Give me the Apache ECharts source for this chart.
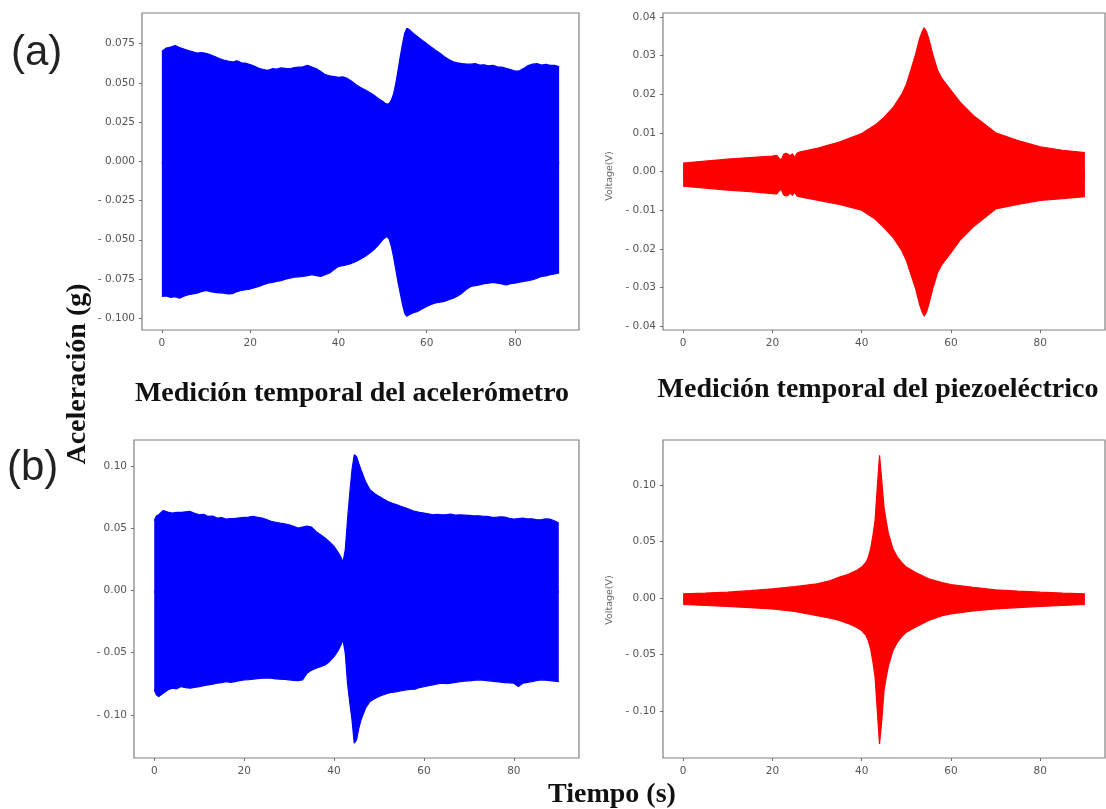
<!DOCTYPE html>
<html>
<head>
<meta charset="utf-8">
<script src="https://cdn.jsdelivr.net/npm/echarts@6/dist/echarts.min.js"></script>
<style>
html,body{margin:0;padding:0;background:#fff;}
#chart{width:1106px;height:809px;}
</style>
</head>
<body>
<div id="chart"></div>
<script>
// ---------- DATA (envelopes) ----------
const xTicks = [0, 20, 40, 60, 80];
const accATicks = [-0.1, -0.075, -0.05, -0.025, 0, 0.025, 0.05, 0.075];
const piezoATicks = [-0.04, -0.03, -0.02, -0.01, 0, 0.01, 0.02, 0.03, 0.04];
const accBTicks = [-0.1, -0.05, 0, 0.05, 0.1];
const piezoBTicks = [-0.1, -0.05, 0, 0.05, 0.1];

// (a) accelerometer
const accATime = [0,1,2,3,4,5,6,7,8,9,10,11,12,13,14,15,16,17,18,19,20,21,22,23,24,25,26,27,28,29,30,31,32,33,34,35,36,37,38,39,40,41,42,43,44,45,46,47,48,49,50,50.5,51,51.5,52,52.5,53,53.5,54,54.5,55,55.5,56,57,58,59,60,61,62,63,64,65,66,67,68,69,70,71,72,73,74,75,76,77,78,79,80,81,82,83,84,85,86,87,88,89,90];
const accAUpper = [0.0700,0.0722,0.0728,0.0738,0.0725,0.0715,0.0705,0.0698,0.0690,0.0693,0.0688,0.0678,0.0668,0.0655,0.0645,0.0638,0.0633,0.0640,0.0628,0.0625,0.0617,0.0605,0.0592,0.0585,0.0580,0.0590,0.0587,0.0595,0.0592,0.0590,0.0597,0.0600,0.0602,0.0612,0.0600,0.0590,0.0572,0.0552,0.0545,0.0540,0.0535,0.0538,0.0528,0.0510,0.0488,0.0470,0.0455,0.0440,0.0422,0.0400,0.0382,0.0372,0.0364,0.0368,0.0390,0.0430,0.0496,0.0580,0.0666,0.0745,0.0814,0.0848,0.0840,0.0815,0.0793,0.0770,0.0750,0.0728,0.0708,0.0688,0.0666,0.0648,0.0634,0.0628,0.0623,0.0620,0.0619,0.0622,0.0613,0.0615,0.0609,0.0612,0.0602,0.0600,0.0592,0.0585,0.0575,0.0577,0.0592,0.0610,0.0619,0.0622,0.0613,0.0618,0.0611,0.0612,0.0602];
const accALower = [-0.0861,-0.0858,-0.0867,-0.0862,-0.0872,-0.0860,-0.0850,-0.0845,-0.0840,-0.0830,-0.0823,-0.0830,-0.0835,-0.0838,-0.0840,-0.0845,-0.0844,-0.0830,-0.0823,-0.0818,-0.0814,-0.0805,-0.0797,-0.0787,-0.0776,-0.0772,-0.0766,-0.0760,-0.0751,-0.0745,-0.0738,-0.0736,-0.0734,-0.0728,-0.0723,-0.0728,-0.0734,-0.0722,-0.0712,-0.0690,-0.0670,-0.0665,-0.0659,-0.0650,-0.0638,-0.0622,-0.0606,-0.0586,-0.0564,-0.0535,-0.0500,-0.0488,-0.0479,-0.0495,-0.0543,-0.0610,-0.0691,-0.0770,-0.0840,-0.0910,-0.0967,-0.0988,-0.0978,-0.0965,-0.0956,-0.0940,-0.0925,-0.0912,-0.0903,-0.0898,-0.0893,-0.0882,-0.0872,-0.0858,-0.0840,-0.0815,-0.0797,-0.0792,-0.0787,-0.0780,-0.0776,-0.0772,-0.0776,-0.0782,-0.0787,-0.0780,-0.0776,-0.0770,-0.0766,-0.0760,-0.0755,-0.0745,-0.0734,-0.0730,-0.0723,-0.0718,-0.0712];

// (a) piezoelectric
const piezoATime = [0,5,10,15,20,21,21.5,22,22.5,23,23.5,24,24.5,25,25.5,26,30,35,40,43,45,47,49,50,51,52,53,53.5,54,54.5,55,56,57,58,60,62,65,70,75,80,85,90];
const piezoAUpper = [0.0022,0.0027,0.0032,0.0036,0.0040,0.0042,0.0034,0.0030,0.0044,0.0047,0.0045,0.0040,0.0046,0.0036,0.0047,0.0050,0.0060,0.0076,0.0098,0.0120,0.0140,0.0165,0.0200,0.0225,0.0262,0.0300,0.0345,0.0360,0.0372,0.0362,0.0345,0.0300,0.0262,0.0240,0.0210,0.0180,0.0145,0.0100,0.0080,0.0064,0.0055,0.0049];
const piezoALower = [-0.0038,-0.0043,-0.0048,-0.0052,-0.0057,-0.0058,-0.0050,-0.0046,-0.0060,-0.0063,-0.0062,-0.0055,-0.0062,-0.0052,-0.0063,-0.0065,-0.0074,-0.0085,-0.0100,-0.0123,-0.0145,-0.0170,-0.0205,-0.0230,-0.0265,-0.0300,-0.0345,-0.0362,-0.0374,-0.0364,-0.0345,-0.0300,-0.0262,-0.0240,-0.0210,-0.0178,-0.0143,-0.0097,-0.0085,-0.0075,-0.0070,-0.0065];

// (b) accelerometer
const accBTime = [0,0.5,1,2,3,4,5,6,7,8,9,10,11,12,13,14,15,16,17,18,19,20,21,22,23,24,25,26,27,28,29,30,31,32,33,34,35,36,37,38,39,40,41,41.5,42,42.5,43,43.5,44,44.5,45,45.5,46,47,48,49,50,51,52,53,54,55,56,57,58,59,60,61,62,63,64,65,66,67,68,69,70,71,72,73,74,75,76,77,78,79,80,81,82,83,84,85,86,87,88,89,90];
const accBUpper = [0.0560,0.0600,0.0608,0.0643,0.0630,0.0622,0.0628,0.0627,0.0632,0.0635,0.0620,0.0608,0.0612,0.0595,0.0598,0.0581,0.0585,0.0573,0.0578,0.0579,0.0583,0.0587,0.0590,0.0595,0.0588,0.0581,0.0570,0.0555,0.0548,0.0541,0.0535,0.0528,0.0515,0.0501,0.0510,0.0518,0.0509,0.0474,0.0448,0.0421,0.0390,0.0354,0.0300,0.0270,0.0228,0.0327,0.0568,0.0780,0.0970,0.1090,0.1077,0.1020,0.0970,0.0876,0.0809,0.0780,0.0756,0.0735,0.0715,0.0700,0.0689,0.0675,0.0662,0.0648,0.0635,0.0628,0.0622,0.0615,0.0608,0.0612,0.0608,0.0610,0.0614,0.0605,0.0608,0.0606,0.0603,0.0600,0.0600,0.0597,0.0595,0.0590,0.0587,0.0592,0.0590,0.0580,0.0573,0.0578,0.0581,0.0575,0.0576,0.0570,0.0568,0.0575,0.0573,0.0560,0.0541];
const accBLower = [-0.0798,-0.0839,-0.0852,-0.0825,-0.0800,-0.0785,-0.0790,-0.0772,-0.0780,-0.0785,-0.0778,-0.0772,-0.0765,-0.0758,-0.0752,-0.0745,-0.0740,-0.0732,-0.0738,-0.0732,-0.0725,-0.0718,-0.0716,-0.0713,-0.0708,-0.0705,-0.0703,-0.0705,-0.0710,-0.0713,-0.0715,-0.0718,-0.0722,-0.0724,-0.0718,-0.0665,-0.0640,-0.0624,-0.0612,-0.0598,-0.0570,-0.0531,-0.0477,-0.0440,-0.0397,-0.0504,-0.0745,-0.0900,-0.1040,-0.1227,-0.1200,-0.1110,-0.1040,-0.0946,-0.0892,-0.0870,-0.0852,-0.0838,-0.0825,-0.0818,-0.0812,-0.0805,-0.0798,-0.0795,-0.0793,-0.0780,-0.0772,-0.0765,-0.0758,-0.0750,-0.0745,-0.0748,-0.0745,-0.0738,-0.0732,-0.0728,-0.0726,-0.0722,-0.0718,-0.0720,-0.0724,-0.0728,-0.0732,-0.0736,-0.0740,-0.0742,-0.0745,-0.0772,-0.0745,-0.0738,-0.0732,-0.0725,-0.0718,-0.0720,-0.0724,-0.0728,-0.0732];

// (b) piezoelectric
const piezoBTime = [0,5,10,15,20,25,30,33,35,37,38,39,40,41,41.5,42,42.5,43,43.5,44,44.5,45,45.5,46,47,48,49,50,52,55,58,60,65,70,75,80,85,90];
const piezoBUpper = [0.0038,0.0045,0.0053,0.0066,0.0083,0.0102,0.0127,0.0155,0.0186,0.0212,0.0230,0.0250,0.0275,0.0319,0.0365,0.0437,0.0550,0.0689,0.0984,0.1265,0.1040,0.0807,0.0680,0.0570,0.0437,0.0363,0.0315,0.0275,0.0230,0.0171,0.0138,0.0121,0.0095,0.0074,0.0062,0.0053,0.0045,0.0038];
const piezoBLower = [-0.0056,-0.0065,-0.0074,-0.0084,-0.0095,-0.0118,-0.0154,-0.0178,-0.0198,-0.0225,-0.0242,-0.0262,-0.0287,-0.0331,-0.0380,-0.0449,-0.0560,-0.0700,-0.0996,-0.1291,-0.1085,-0.0819,-0.0700,-0.0597,-0.0464,-0.0390,-0.0340,-0.0301,-0.0257,-0.0198,-0.0155,-0.0139,-0.0112,-0.0095,-0.0083,-0.0074,-0.0065,-0.0056];

// ---------- CHART ----------
const BLUE = '#0000FF', RED = '#FF0000';
const tickFont = 'DejaVu Sans';

function fmt(d) {
  return function (v) {
    const s = Math.abs(v).toFixed(d);
    return v < -1e-9 ? '- ' + s : s;
  };
}

// Envelope = upper area filled down past zero + lower area filled up to zero.
function bandSeries(idx, times, upper, lower, color) {
  const upperData = times.map((t, i) => [t, upper[i]]);
  const lowerData = times.map((t, i) => [t, lower[i]]);
  return [
    { type: 'line', xAxisIndex: idx, yAxisIndex: idx, data: lowerData,
      showSymbol: false, silent: true, lineStyle: { color: color, width: 1.2 },
      areaStyle: { color: color, opacity: 1, origin: 0 }, z: 2 },
    { type: 'line', xAxisIndex: idx, yAxisIndex: idx, data: upperData,
      showSymbol: false, silent: true, lineStyle: { color: color, width: 1.2 },
      areaStyle: { color: color, opacity: 1, origin: -0.002 }, z: 3 }
  ];
}

const grids = [
  { left: 142, top: 13, width: 437, height: 317 },
  { left: 663, top: 13, width: 442, height: 317 },
  { left: 134, top: 440, width: 445, height: 318 },
  { left: 663, top: 440, width: 442, height: 318 }
].map(g => Object.assign({ show: true, borderColor: '#808080', borderWidth: 1.2, backgroundColor: 'transparent' }, g));

function xAx(i) {
  return {
    type: 'value', gridIndex: i, min: -4.5, max: 94.5,
    axisLine: { show: false, onZero: false }, splitLine: { show: false },
    axisTick: { show: true, customValues: xTicks, length: 3, lineStyle: { color: '#707070' } },
    axisLabel: { customValues: xTicks, margin: 8, fontSize: 10.5, color: '#555', fontFamily: tickFont }
  };
}
function yAx(i, min, max, ticks, dec) {
  return {
    type: 'value', gridIndex: i, min: min, max: max,
    axisLine: { show: false, onZero: false }, splitLine: { show: false },
    axisTick: { show: true, customValues: ticks, length: 3, lineStyle: { color: '#707070' } },
    axisLabel: { customValues: ticks, margin: 7, fontSize: 10.5, color: '#555', fontFamily: tickFont, formatter: fmt(dec) }
  };
}

const chart = echarts.init(document.getElementById('chart'), null, { renderer: 'canvas' });
chart.setOption({
  animation: false,
  backgroundColor: '#fff',
  grid: grids,
  xAxis: [xAx(0), xAx(1), xAx(2), xAx(3)],
  yAxis: [
    yAx(0, -0.1075, 0.0945, accATicks, 3),
    yAx(1, -0.041, 0.041, piezoATicks, 2),
    yAx(2, -0.1346, 0.1209, accBTicks, 2),
    yAx(3, -0.1415, 0.1400, piezoBTicks, 2)
  ],
  series: [].concat(
    bandSeries(0, accATime, accAUpper, accALower, BLUE),
    bandSeries(1, piezoATime, piezoAUpper, piezoALower, RED),
    bandSeries(2, accBTime, accBUpper, accBLower, BLUE),
    bandSeries(3, piezoBTime, piezoBUpper, piezoBLower, RED)
  ),
  graphic: [
    { type: 'text', x: 11, y: 53, style: { text: '(a)', font: '42px "Liberation Sans"', fill: '#222', textAlign: 'left', textVerticalAlign: 'middle' } },
    { type: 'text', x: 7, y: 468, style: { text: '(b)', font: '42px "Liberation Sans"', fill: '#222', textAlign: 'left', textVerticalAlign: 'middle' } },
    { type: 'text', x: 78, y: 374, rotation: Math.PI / 2, style: { text: 'Aceleración (g)', font: 'bold 28px "Liberation Serif"', fill: '#111', textAlign: 'center', textVerticalAlign: 'middle' } },
    { type: 'text', x: 352, y: 394, style: { text: 'Medición temporal del acelerómetro', font: 'bold 28px "Liberation Serif"', fill: '#111', textAlign: 'center', textVerticalAlign: 'middle' } },
    { type: 'text', x: 878, y: 390, style: { text: 'Medición temporal del piezoeléctrico', font: 'bold 28px "Liberation Serif"', fill: '#111', textAlign: 'center', textVerticalAlign: 'middle' } },
    { type: 'text', x: 612, y: 795, style: { text: 'Tiempo (s)', font: 'bold 28px "Liberation Serif"', fill: '#111', textAlign: 'center', textVerticalAlign: 'middle' } },
    { type: 'text', x: 610, y: 176, rotation: Math.PI / 2, style: { text: 'Voltage(V)', font: '9.5px "DejaVu Sans"', fill: '#666', textAlign: 'center', textVerticalAlign: 'middle' } },
    { type: 'text', x: 610, y: 600, rotation: Math.PI / 2, style: { text: 'Voltage(V)', font: '9.5px "DejaVu Sans"', fill: '#666', textAlign: 'center', textVerticalAlign: 'middle' } }
  ]
});
</script>
</body>
</html>
